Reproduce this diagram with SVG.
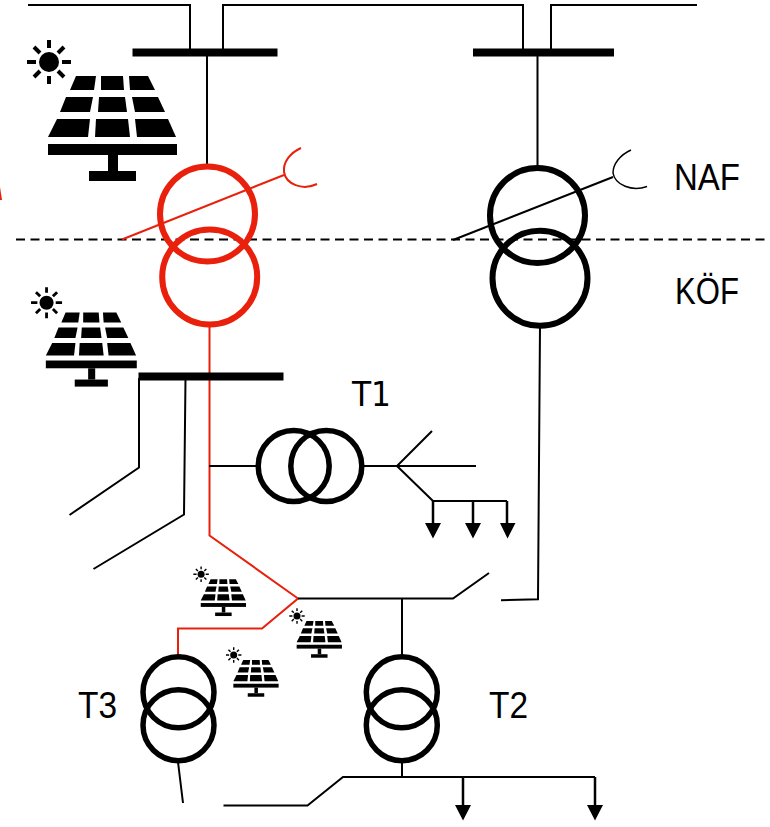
<svg xmlns="http://www.w3.org/2000/svg" width="770" height="827" viewBox="0 0 770 827">
<style>
.l{fill:none;stroke:#000;stroke-width:2}
.r{fill:none;stroke:#e8200c;stroke-width:2}
.c{fill:none;stroke:#000;stroke-width:5.5}
.cb{fill:none;stroke:#000;stroke-width:6}
.cr{fill:none;stroke:#e8200c;stroke-width:6}
.t{font-family:"Liberation Sans",Arial,sans-serif;font-size:36px;fill:#000}
.bar{fill:#000}
</style>
<defs>
<g id="pv">
<g fill="#000">
<path d="M76 76H96L94 90H70Z"/><path d="M101 76H123L124 90H101Z"/><path d="M129 76H148L155 90H130Z"/>
<path d="M66 97H93L90 112H60Z"/><path d="M99 97H125L127 112H98Z"/><path d="M132 97H158L165 112H135Z"/>
<path d="M57 119H90L88 137H48Z"/><path d="M96 119H128L130 137H95Z"/><path d="M135 119H168L176 137H137Z"/>
<rect x="48" y="144" width="129" height="11"/><rect x="108" y="155" width="10" height="16"/><rect x="89" y="171" width="47" height="10"/>
</g>
<circle cx="49" cy="62" r="10" fill="#000"/>
<path d="M49 40V48M49 76V84M27 62H36M62 62H71M34 47L40 53M58 71L64 77M34 77L40 71M64 47L58 53" stroke="#000" stroke-width="4" fill="none"/>
</g>
</defs>
<g id="connectors">
<path class="l" d="M28 5H190V50M223 50V5H523V50M551 50V5H697"/>
<path class="l" d="M207 52V166M537.500 52V168"/>
<path d="M16 239.500H770" fill="none" stroke="#000" stroke-width="2" stroke-dasharray="9 5.500"/>
<path class="r" d="M122 239.500L284 175"/>
<path class="r" d="M301 148C290 153 283 162 284 172C286 184 302 191 317 184"/>
<path class="l" d="M453 240L613 177"/>
<path d="M631 150C620 155 613 164 613 173C615 185 632 192 647 186.500" fill="none" stroke="#000" stroke-width="1.500"/>
<path class="r" d="M209.500 325V535.500L298 598.500L262 628.500H178V658"/>
<path class="l" d="M139 378V467.500L69.500 515M185.500 378L184 514.500L93.500 569"/>
<path class="l" d="M209 466H257M363 466H397M476 466H397L432 431M397 466L433 501H507"/>
<path class="l" d="M298 598.500H453L489 573M501 600.300L538 599.300L540 326"/>
<path class="l" d="M402 598V657M402 762V777M178 762L183 803M223.500 805.500H307.500L343 777H595"/>
<path d="M433 501V526M473 501V526M507 501V526M463 777V806M595 777V806" fill="none" stroke="#000" stroke-width="2.500"/>
<path d="M425 523H441L433 538.500ZM465 523H481L473 538.500ZM500 523H515.500L507.500 538.500ZM455 805H471L463 820.500ZM587 805H603L595 820.500Z" fill="#000"/>
</g>
<g id="bus-1"><rect class="bar" x="132.500" y="48.500" width="145" height="8"/></g>
<g id="bus-2"><rect class="bar" x="473" y="48.500" width="141" height="8"/></g>
<g id="bus-3"><rect class="bar" x="138.500" y="372.500" width="145" height="8"/></g>
<g id="pv-1"><use href="#pv"/></g>
<g id="pv-2"><use href="#pv" transform="translate(12 259) scale(.705)"/></g>
<g id="pv-3"><use href="#pv" transform="translate(183.900 552.500) scale(.351)"/></g>
<g id="pv-4"><use href="#pv" transform="translate(279.800 594.200) scale(.351)"/></g>
<g id="pv-5"><use href="#pv" transform="translate(216.500 633.200) scale(.351)"/></g>
<g id="tr-red"><circle class="cr" cx="207.500" cy="214" r="47.500"/><circle class="cr" cx="209.700" cy="277" r="47.500"/></g>
<g id="tr-naf"><circle class="cb" cx="537.500" cy="215.500" r="47.500"/><circle class="cb" cx="540" cy="278.300" r="47.500"/></g>
<g id="T1"><circle class="c" cx="293.700" cy="466" r="35.500"/><circle class="c" cx="326.300" cy="466" r="35.500"/><text x="352" y="405.500" font-family="'DejaVu Sans',sans-serif" font-size="34" textLength="39" lengthAdjust="spacingAndGlyphs">T1</text></g>
<g id="T2"><circle class="c" cx="401.800" cy="692.300" r="35.500"/><circle class="c" cx="401.800" cy="725.200" r="35.500"/><text class="t" x="489" y="717.500" textLength="39" lengthAdjust="spacingAndGlyphs">T2</text></g>
<g id="T3"><circle class="c" cx="178.500" cy="692.300" r="35.500"/><circle class="c" cx="178.500" cy="725.200" r="35.500"/><text class="t" x="78" y="717.500" textLength="39" lengthAdjust="spacingAndGlyphs">T3</text></g>
<g id="labels"><text class="t" x="674" y="189.500" textLength="66" lengthAdjust="spacingAndGlyphs">NAF</text><text class="t" x="675" y="304" textLength="64" lengthAdjust="spacingAndGlyphs">KÖF</text></g>
<path d="M0 187L2 200H0Z" fill="#e8200c"/>
</svg>
